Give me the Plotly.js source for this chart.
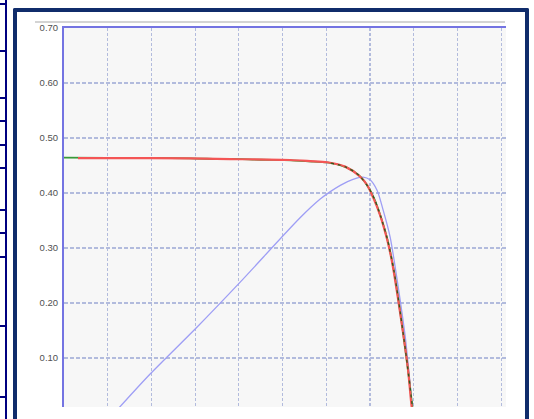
<!DOCTYPE html>
<html>
<head>
<meta charset="utf-8">
<script src="https://cdn.plot.ly/plotly-3.0.1.min.js"></script>
<style>
  html, body { margin:0; padding:0; background:#fff; width:534px; height:419px; overflow:hidden; }
  .abs { position:absolute; }
  #chart { position:absolute; left:0; top:0; width:534px; height:419px; }
</style>
</head>
<body>
<!-- partial table on the left -->
<div class="abs" style="left:5px;top:0;width:2px;height:419px;background:#000080;"></div>
<div id="tbl"></div>
<!-- panel frame -->
<div class="abs" style="left:13px;top:8px;width:508px;height:419px;border:4px solid #102c6b;border-bottom:none;background:#fff;border-radius:2px 2px 0 0;"></div>
<div class="abs" style="left:35px;top:21px;width:470px;height:2px;background:#d4d4d4;"></div>
<div id="chart"></div>
<script>
// left table row separators (y in px of the cut-off table)
var tableRows = [4, 51, 98, 121, 145, 168, 210, 233, 257, 326, 397];
var tbl = document.getElementById('tbl');
tableRows.forEach(function (y) {
  var d = document.createElement('div');
  d.className = 'abs';
  d.style.cssText = 'left:0;top:' + (y - 1) + 'px;width:7px;height:2px;background:#000080;';
  tbl.appendChild(d);
});

// y tick labels
var yTicks = [0.1, 0.2, 0.3, 0.4, 0.5, 0.6, 0.7];
var yTickText = ['0.10', '0.20', '0.30', '0.40', '0.50', '0.60', '0.70'];

// measured I-V curve (green)
var greenV = [0, 0.1, 0.2, 0.29, 0.37, 0.38, 0.45, 0.52, 0.57, 0.61, 0.645, 0.675, 0.695, 0.71, 0.725, 0.74, 0.755, 0.77, 0.785, 0.795, 0.8];
var greenI = [0.4645, 0.4640, 0.4637, 0.4630, 0.4615, 0.4620, 0.4605, 0.4595, 0.457, 0.4545, 0.447, 0.432, 0.412, 0.389, 0.356, 0.315, 0.257, 0.178, 0.090, 0.024, -0.01];

// fitted I-V curve (red)
var redV = [0.032, 0.2, 0.38, 0.517, 0.563, 0.602, 0.643, 0.677, 0.693, 0.707, 0.723, 0.739, 0.751, 0.773, 0.787, 0.794, 0.797];
var redI = [0.4636, 0.4636, 0.4618, 0.460, 0.458, 0.456, 0.448, 0.430, 0.415, 0.392, 0.360, 0.316, 0.272, 0.160, 0.078, 0.020, 0.0];

// power curve (blue)
var blueV = [0.115, 0.197, 0.304, 0.403, 0.540, 0.586, 0.610, 0.632, 0.661, 0.684, 0.700, 0.716, 0.730, 0.746, 0.757, 0.769, 0.780, 0.787, 0.794, 0.797];
var blueP = [0.0, 0.071, 0.156, 0.238, 0.355, 0.389, 0.403, 0.414, 0.425, 0.429, 0.424, 0.405, 0.369, 0.320, 0.268, 0.205, 0.142, 0.090, 0.033, 0.0];

var kneeV = [], kneeI = [];
for (var i = 0; i < greenV.length; i++) {
  if (greenV[i] >= 0.6) { kneeV.push(greenV[i]); kneeI.push(greenI[i]); }
}

var traces = [
  { x: blueV, y: blueP, mode: 'lines', line: { color: '#9e9ef5', width: 1.3, shape: 'spline', smoothing: 0.8 }, hoverinfo: 'none' },
  { x: greenV, y: greenI, mode: 'lines', line: { color: '#3a9a3a', width: 1.8, shape: 'spline', smoothing: 0.8 }, hoverinfo: 'none' },
  { x: redV, y: redI, mode: 'lines', line: { color: '#f45555', width: 2.2, shape: 'spline', smoothing: 0.8 }, hoverinfo: 'none' },
  { x: kneeV, y: kneeI, mode: 'lines', line: { color: '#2f5a1c', width: 1.3, dash: '3px,4px', shape: 'spline', smoothing: 0.8 }, hoverinfo: 'none' }
];

var layout = {
  width: 534, height: 419,
  margin: { l: 64, r: 28, t: 28, b: 12, pad: 0 },
  paper_bgcolor: 'rgba(0,0,0,0)',
  plot_bgcolor: '#f7f7f7',
  showlegend: false,
  xaxis: {
    range: [0, 1.011], tick0: 0, dtick: 0.1, side: 'top',
    showticklabels: false, ticks: '',
    showgrid: true, gridcolor: '#b2bbdd', gridwidth: 1.2, griddash: '3px,2px',
    zeroline: false, showline: true, linecolor: '#7474e2', linewidth: 2, fixedrange: true
  },
  yaxis: {
    range: [0.011, 0.70], tickvals: yTicks, ticktext: yTickText,
    tickfont: { family: 'Liberation Sans, Arial, sans-serif', size: 9.5, color: '#505050' },
    ticks: '', ticklabelstandoff: 2,
    showgrid: true, gridcolor: '#b2bbdd', gridwidth: 1.2, griddash: '4px,2px',
    zeroline: false, showline: true, linecolor: '#7474e2', linewidth: 2, fixedrange: true
  }
};

Plotly.newPlot('chart', traces, layout, { staticPlot: true, displayModeBar: false });
</script>
</body>
</html>
